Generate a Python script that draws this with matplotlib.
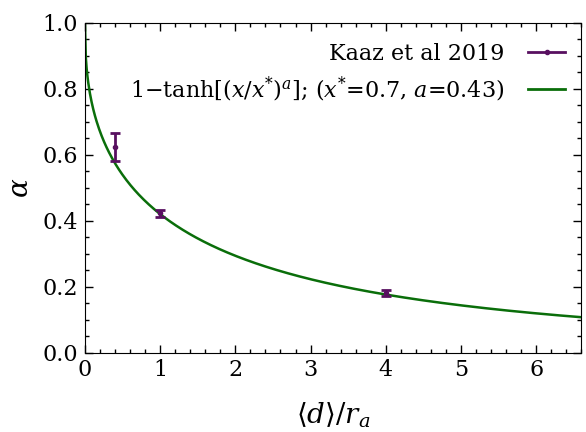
import numpy as np
import matplotlib
matplotlib.use("Agg")
import matplotlib.pyplot as plt
from matplotlib.lines import Line2D
from matplotlib.ticker import MultipleLocator, FormatStrFormatter

plt.rcParams['font.family'] = ['DejaVu Serif']
plt.rcParams['mathtext.fontset'] = 'dejavuserif'

# Data (Kaaz et al 2019)
x_data = [0.4, 1.0, 4.0]
y_data = [0.625, 0.422, 0.180]
y_err_low = [0.045, 0.010, 0.010]
y_err_high = [0.040, 0.010, 0.010]

# Fit curve parameters (as drawn)
x_star_drawn = 2.73
a_drawn = 0.41
fit_label = r'1$-$tanh[$(x/x^{*})^{a}$]; ($x^{*}$=0.7, $a$=0.43)'
data_label = 'Kaaz et al 2019'

purple = '#581060'
green = '#0a6e0a'

fig = plt.figure(figsize=(5.86, 4.32), dpi=100)
ax = fig.add_axes([0.145, 0.184, 0.847, 0.763])

xs = np.linspace(0, 6.6, 600)
ax.plot(xs, 1 - np.tanh((xs / x_star_drawn) ** a_drawn), color=green, lw=1.8, zorder=2)

ax.errorbar(x_data, y_data, yerr=[y_err_low, y_err_high], fmt='o', ms=3,
            color=purple, ecolor=purple, elinewidth=2, capsize=3.5, capthick=2, zorder=3)

handles = [Line2D([], [], color=purple, lw=2, marker='o', ms=3),
           Line2D([], [], color=green, lw=2)]
ax.legend(handles, [data_label, fit_label], loc='upper right', frameon=False,
          markerfirst=False, fontsize=16, handlelength=1.7, handletextpad=1.05,
          borderaxespad=0.2, labelspacing=0.42, bbox_to_anchor=(0.995, 0.98))

ax.set_xlim(0, 6.6)
ax.set_ylim(0, 1.0)
ax.xaxis.set_major_locator(MultipleLocator(1))
ax.xaxis.set_minor_locator(MultipleLocator(0.2))
ax.yaxis.set_major_locator(MultipleLocator(0.2))
ax.yaxis.set_minor_locator(MultipleLocator(0.05))
ax.yaxis.set_major_formatter(FormatStrFormatter('%.1f'))
ax.tick_params(which='both', direction='in', top=True, right=True, labelsize=16)
ax.tick_params(which='major', length=6, width=1, pad=5)
ax.tick_params(which='minor', length=3, width=1)
ax.set_xlabel(r'$\langle d\rangle/r_a$', fontsize=20, labelpad=14)
ax.set_ylabel(r'$\alpha$', fontsize=20, labelpad=6)

fig.savefig('out.png', dpi=100)
